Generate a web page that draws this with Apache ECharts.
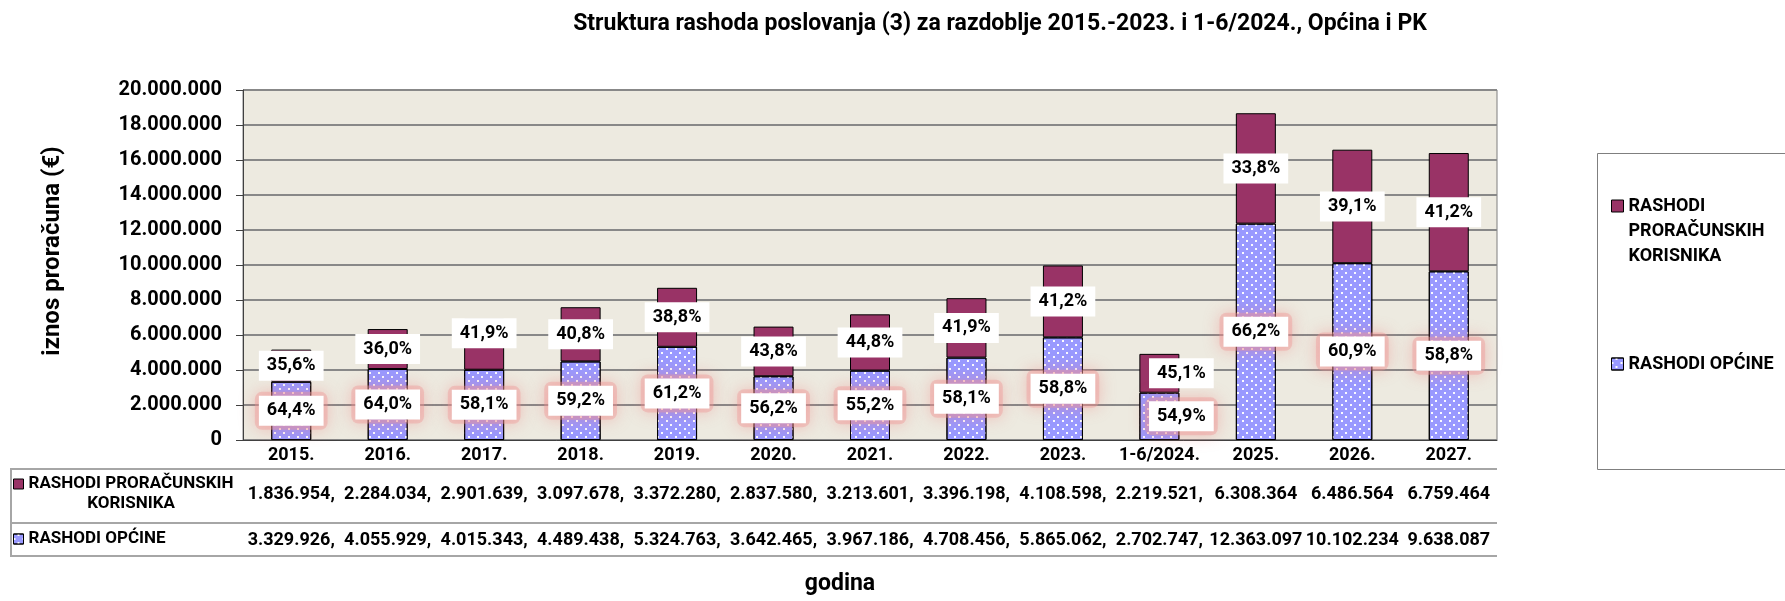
<!DOCTYPE html>
<html>
<head>
<meta charset="utf-8">
<title>Struktura rashoda poslovanja</title>
<script src="https://cdn.jsdelivr.net/npm/echarts@6/dist/echarts.min.js"></script>
<style>
	html, body { margin: 0; padding: 0; background: #fff; }
	#chart { width: 1785px; height: 601px; }
</style>
</head>
<body>
<div id="chart"></div>
<script>
// godine (kategorije na x osi)
var godine = ['2015.', '2016.', '2017.', '2018.', '2019.', '2020.', '2021.', '2022.', '2023.', '1-6/2024.', '2025.', '2026.', '2027.'];
// rashodi proračunskih korisnika
var rashodiPK = [1836954, 2284034, 2901639, 3097678, 3372280, 2837580, 3213601, 3396198, 4108598, 2219521, 6308364, 6486564, 6759464];
// rashodi općine
var rashodiOpcine = [3329926, 4055929, 4015343, 4489438, 5324763, 3642465, 3967186, 4708456, 5865062, 2702747, 12363097, 10102234, 9638087];
// y os
var yMin = 0, yMax = 20000000, yKorak = 2000000;
// prvih 10 stupaca u tablici ima zarez na kraju (odrezane decimale)
var odrezaniStupci = 10;

var nazivPK = 'RASHODI PRORAČUNSKIH KORISNIKA';
var nazivOpcine = 'RASHODI OPĆINE';

// raspored
var gridL = 243, gridR = 1497, gridT = 90, gridB = 440;
var tablicaL = 11, redovi = [469, 523, 556];
var FONT = 'Roboto';
// ručno pomaknute oznake
var pomak = {
	'2017.': {pk: [0, -11]},
	'1-6/2024.': {pk: [22, 0], op: [22, 0]}
};

function tocke(v) {
	return String(v).replace(/\B(?=(\d{3})+(?!\d))/g, '.');
}
function postotak(i, v) {
	return (v / (rashodiPK[i] + rashodiOpcine[i]) * 100).toFixed(1).replace('.', ',') + '%';
}
function tekstTablice(arr) {
	return arr.map(function (v, i) { return tocke(v) + (i < odrezaniStupci ? ',' : ''); });
}
function podaci(arr, kljuc) {
	return arr.map(function (v, i) {
		var o = {value: v};
		var p = pomak[godine[i]];
		if (p && p[kljuc]) o.label = {offset: p[kljuc]};
		return o;
	});
}

// jedna stavka legende = jedna komponenta (lakše je pozicionirati)
function legenda(naziv, left, top, velicina, fontSize, lineHeight, formatter, rich) {
	return {
		orient: 'vertical',
		left: left,
		top: top,
		padding: 0,
		itemWidth: velicina,
		itemHeight: velicina,
		icon: 'rect',
		selectedMode: false,
		itemStyle: {borderColor: '#000', borderWidth: 1},
		formatter: formatter,
		textStyle: {fontFamily: FONT, fontWeight: 'bold', fontSize: fontSize, lineHeight: lineHeight, color: '#000', rich: rich},
		data: [naziv]
	};
}

var myChart = echarts.init(document.getElementById('chart'));

var oznakaTekst = {
	color: '#000',
	fontFamily: FONT,
	fontWeight: 'bold',
	fontSize: 18,
	lineHeight: 18
};

var tablicaTekst = {fontFamily: FONT, fontWeight: 'bold', fontSize: 18, color: '#000'};

var richTablica = {
	a: {fontFamily: FONT, fontWeight: 'bold', fontSize: 17, lineHeight: 20, color: '#000'},
	b: {fontFamily: FONT, fontWeight: 'bold', fontSize: 17, lineHeight: 20, color: '#000', width: 192, align: 'center'}
};

var option = {
	backgroundColor: '#fff',
	animation: false,
	title: {
		text: 'Struktura rashoda poslovanja (3) za razdoblje 2015.-2023. i 1-6/2024., Općina i PK',
		left: 995,
		top: 8,
		textAlign: 'center',
		textStyle: {fontFamily: FONT, fontWeight: 'bold', fontSize: 23, color: '#000'}
	},
	legend: [
		// desno, prazni redovi gore da kvadratić stoji uz prvi red
		legenda(nazivPK, 1611, 143.5, 12, 18, 25, function () { return '\n\nRASHODI\nPRORAČUNSKIH\nKORISNIKA'; }),
		legenda(nazivOpcine, 1611, 351.5, 12, 18, 25),
		// u tablici
		legenda(nazivPK, 13, 454, 10, 17, 20, function () { return '{a|}\n{a|RASHODI PRORAČUNSKIH}\n{b|KORISNIKA}'; }, richTablica),
		legenda(nazivOpcine, 13, 529, 10, 17, 20)
	],
	grid: {
		left: gridL,
		right: 1785 - gridR,
		top: gridT,
		bottom: 601 - gridB,
		show: true,
		backgroundColor: '#EDEAE0',
		borderColor: '#7f7f7f',
		borderWidth: 1,
		outerBoundsMode: 'none'
	},
	xAxis: [
		{
			type: 'category',
			data: godine,
			name: 'godina',
			nameLocation: 'middle',
			nameGap: 133,
			nameTextStyle: {fontFamily: FONT, fontWeight: 'bold', fontSize: 23, color: '#000', padding: [0, 60, 0, 0]},
			axisLine: {lineStyle: {color: '#404040', width: 1}},
			axisTick: {length: 116, lineStyle: {color: '#a6a6a6', width: 2}},
			axisLabel: Object.assign({interval: 0, margin: 15, verticalAlign: 'middle'}, tablicaTekst)
		},
		{
			type: 'category',
			data: tekstTablice(rashodiPK),
			position: 'bottom',
			axisLine: {show: false},
			axisTick: {show: false},
			axisLabel: Object.assign({interval: 0, margin: 54, verticalAlign: 'middle'}, tablicaTekst)
		},
		{
			type: 'category',
			data: tekstTablice(rashodiOpcine),
			position: 'bottom',
			axisLine: {show: false},
			axisTick: {show: false},
			axisLabel: Object.assign({interval: 0, margin: 100, verticalAlign: 'middle'}, tablicaTekst)
		}
	],
	yAxis: {
		type: 'value',
		min: yMin,
		max: yMax,
		interval: yKorak,
		name: 'iznos proračuna (€)',
		nameLocation: 'middle',
		nameGap: 178,
		nameTextStyle: {fontFamily: FONT, fontWeight: 'bold', fontSize: 24, color: '#000', padding: [0, 0, 0, 28]},
		axisLine: {show: true, lineStyle: {color: '#404040', width: 1}},
		axisTick: {show: true, length: 7, lineStyle: {color: '#404040'}},
		axisLabel: {
			margin: 21,
			fontFamily: FONT, fontWeight: 'bold', fontSize: 20, color: '#000',
			formatter: function (v) { return tocke(v); }
		},
		splitLine: {lineStyle: {color: '#888', width: 2}}
	},
	series: [
		{
			name: nazivOpcine,
			type: 'bar',
			stack: 'ukupno',
			barWidth: 40,
			data: podaci(rashodiOpcine, 'op'),
			itemStyle: {
				color: '#9999FF',
				borderColor: '#000',
				borderWidth: 1,
				decal: {
					symbol: 'rect',
					symbolSize: 1,
					color: 'rgba(255,255,255,0.95)',
					dashArrayX: [[2, 7], [0, 4, 2, 3]],
					dashArrayY: [2, 2]
				}
			},
			// bijela kućica s crvenkastim sjajem oko nje
			label: {
				show: true,
				position: 'inside',
				padding: 4,
				borderRadius: 7,
				backgroundColor: 'rgba(240, 150, 150, 0.4)',
				shadowBlur: 16,
				shadowColor: 'rgba(235, 115, 115, 0.9)',
				formatter: function (p) { return '{w|' + postotak(p.dataIndex, p.value) + '}'; },
				rich: {
					w: Object.assign({}, oznakaTekst, {
						backgroundColor: '#fff',
						height: 18,
						lineHeight: 30,
						padding: [6, 8, 6, 8]
					})
				}
			}
		},
		{
			name: nazivPK,
			type: 'bar',
			stack: 'ukupno',
			barWidth: 40,
			data: podaci(rashodiPK, 'pk'),
			itemStyle: {color: '#993366', borderColor: '#000', borderWidth: 1},
			label: Object.assign({
				show: true,
				position: 'inside',
				backgroundColor: '#fff',
				padding: [6, 8, 6, 8],
				formatter: function (p) { return postotak(p.dataIndex, p.value); }
			}, oznakaTekst)
		}
	],
	graphic: [
		// okvir legende
		{
			type: 'rect',
			silent: true,
			shape: {x: 1597.5, y: 153.5, width: 220, height: 316},
			style: {fill: 'none', stroke: '#7f7f7f', lineWidth: 1}
		},
		// crte tablice
		{
			type: 'polyline',
			silent: true,
			shape: {points: [[gridR, redovi[0]], [tablicaL, redovi[0]], [tablicaL, redovi[2]], [gridR, redovi[2]]]},
			style: {fill: 'none', stroke: '#a6a6a6', lineWidth: 2}
		},
		{
			type: 'line',
			silent: true,
			shape: {x1: tablicaL, y1: redovi[1], x2: gridR, y2: redovi[1]},
			style: {stroke: '#a6a6a6', lineWidth: 2}
		}
	]
};
myChart.setOption(option);
</script>
</body>
</html>
